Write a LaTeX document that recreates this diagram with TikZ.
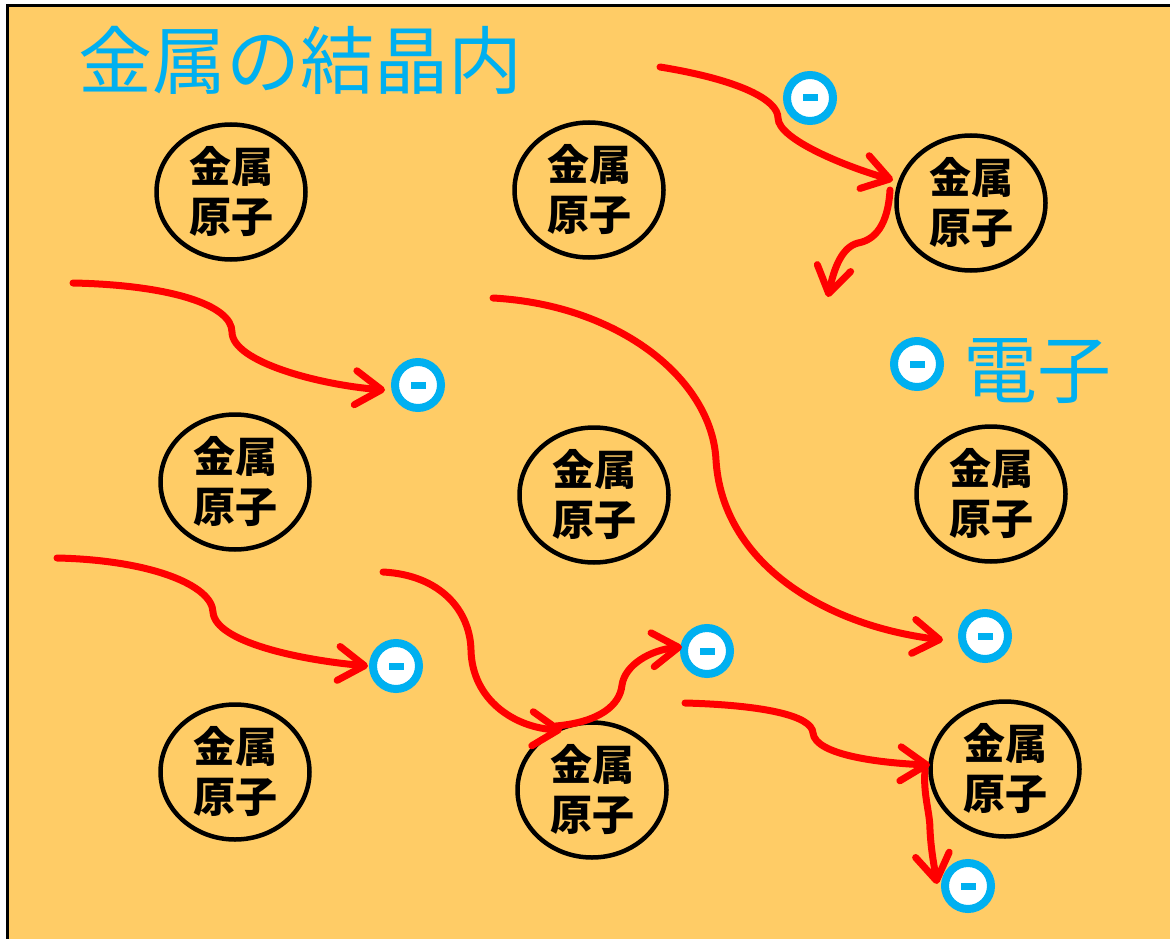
\documentclass[tikz,border=0pt]{standalone}
\usepackage{fontspec}
\setmainfont{Noto Sans CJK JP}
\usetikzlibrary{arrows.meta,shapes.geometric}
\definecolor{bg}{HTML}{FFCC66}
\definecolor{ecyan}{HTML}{00B0F0}
\definecolor{ared}{HTML}{FF0000}
\begin{document}
\begin{tikzpicture}[x=1pt,y=-1pt,
  atom/.style={ellipse, draw=black, line width=4.5pt, minimum width=149pt, minimum height=135pt,
    align=center, inner sep=0pt, font=\fontsize{42}{50}\selectfont\bfseries},
  electron/.style={circle, draw=ecyan, line width=8pt, fill=white, minimum size=46pt, inner sep=0pt},
  flow/.style={draw=ared, line width=7pt, line cap=round,
    -{Straight Barb[length=26pt,width=34pt,line cap=round,line join=round]}},
  bigtext/.style={anchor=base west, text=ecyan, inner sep=0pt, font=\fontsize{74}{80}\selectfont}
]
\useasboundingbox (0,0) rectangle (1170,939);
\fill[white] (0,0) rectangle (1170,939);
\clip (0,0) rectangle (1170,939);
\draw[line width=3pt, fill=bg] (7.5,5.5) rectangle (1185,955);

% title
\node[bigtext] (title) at (78,89) {金属の結晶内};

% atoms
\newcommand{\atomtxt}{\raisebox{-3pt}{\begin{tabular}{@{}c@{}}金属\\[-0.6pt]原子\end{tabular}}}
\node[atom] (a1) at (231,192) {金属\\原子};
\node[atom] (a2) at (589,190) {金属\\原子};
\node[atom] (a3) at (971,203) {金属\\原子};
\node[atom] (a4) at (235,482) {金属\\原子};
\node[atom] (a5) at (594,495) {金属\\原子};
\node[atom] (a6) at (991,494) {金属\\原子};
\node[atom] (a7) at (235,772) {金属\\原子};
\node[atom] (a8) at (592,790) {金属\\原子};
\node[atom] (a9) at (1005,769) {金属\\原子};

% electrons
\newcommand{\edash}{\textcolor{ecyan}{\rule{15pt}{7pt}}}
\node[electron] (e1) at (810,98) {\edash};
\node[electron] (e2) at (418,385) {\edash};
\node[electron] (e3) at (396,666) {\edash};
\node[electron] (e4) at (707,651) {\edash};
\node[electron] (e5) at (985,636) {\edash};
\node[electron] (e6) at (968,886) {\edash};
\node[electron] (el) at (917,364) {\edash};
\node[bigtext] (ltext) at (963,397) {電子};

% paths
\coordinate (s1) at (660,67);   \coordinate (k1) at (778,118);  \coordinate (t1) at (893,180);
\draw[flow] (s1) .. controls (740,80) and (778,100) .. (k1) .. controls (778,140) and (850,168) .. (t1);

\coordinate (s2) at (890,190);  \coordinate (k2) at (858,243);  \coordinate (t2) at (828,297);
\draw[flow] (s2) .. controls (888,225) and (875,240) .. (k2) .. controls (842,247) and (834,268) .. (t2);

\coordinate (s3) at (73,283);   \coordinate (k3) at (232,332);  \coordinate (t3) at (385,390);
\draw[flow] (s3) .. controls (170,285) and (232,305) .. (k3) .. controls (232,362) and (320,385) .. (t3);

\coordinate (s4) at (57,558);   \coordinate (k4) at (213,612);  \coordinate (t4) at (368,666);
\draw[flow] (s4) .. controls (150,560) and (212,585) .. (k4) .. controls (215,642) and (300,660) .. (t4);

\coordinate (s5) at (383,572);  \coordinate (k5) at (471,650);  \coordinate (t5) at (562,730);
\draw[flow] (s5) .. controls (440,575) and (470,610) .. (k5) .. controls (472,700) and (515,728) .. (t5);

\coordinate (s6) at (556,726);  \coordinate (k6) at (622,685);  \coordinate (t6) at (682,647);
\draw[flow] (s6) .. controls (600,722) and (620,705) .. (k6) .. controls (625,665) and (650,650) .. (t6);

\coordinate (s7) at (493,298);  \coordinate (k7) at (716,460);  \coordinate (t7) at (943,640);
\draw[flow] (s7) .. controls (620,305) and (712,380) .. (k7) .. controls (722,560) and (820,625) .. (t7);

\coordinate (s8) at (685,703);  \coordinate (k8) at (813,733);  \coordinate (t8) at (930,765);
\draw[flow] (s8) .. controls (760,705) and (812,715) .. (k8) .. controls (815,755) and (880,763) .. (t8);

\coordinate (s9) at (925,770);  \coordinate (k9) at (930,830);  \coordinate (t9) at (937,884);
\draw[flow] (s9) .. controls (923,795) and (930,812) .. (k9) .. controls (931,850) and (934,865) .. (t9);
\end{tikzpicture}
\end{document}
